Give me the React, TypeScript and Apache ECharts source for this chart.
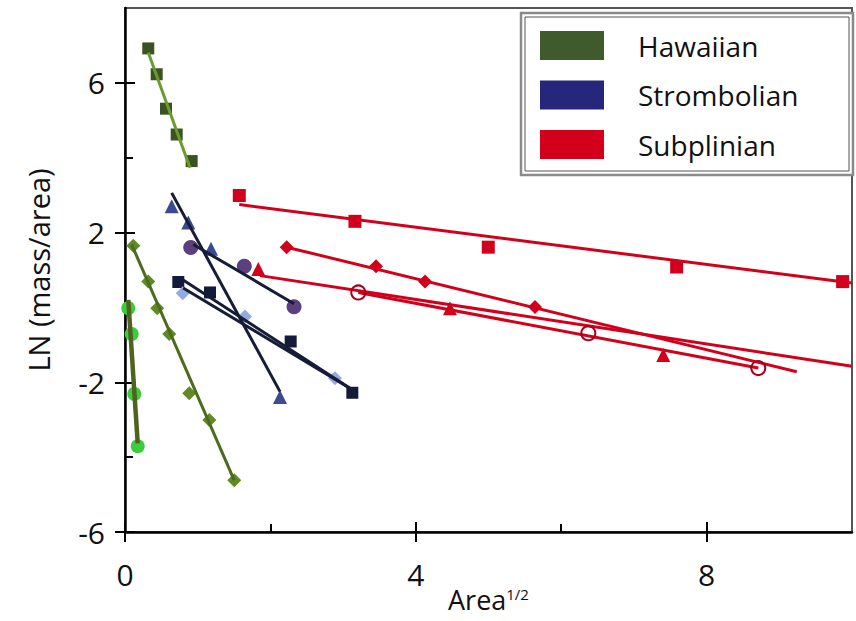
import React, { useEffect, useRef } from "react";
import * as echarts from "echarts";

// ---- data ----
const xTickLabels = [0, 4, 8];
const xMinorTicks = [2, 6];
const yTickLabels = [-6, -2, 2, 6];
const yMinorTicks = [-4, 0, 4];

const legendNames = ["Hawaiian", "Strombolian", "Subplinian"];

// Hawaiian
const hawSquares = [[0.32, 6.92], [0.436, 6.23], [0.564, 5.31], [0.711, 4.62], [0.917, 3.91]];
const hawSquaresFit = [[0.32, 6.81], [0.894, 3.73]];
const hawDiamonds = [[0.114, 1.65], [0.32, 0.69], [0.444, -0.02], [0.609, -0.71], [0.884, -2.29], [1.16, -3.01], [1.503, -4.62]];
const hawDiamondsFit = [[0.092, 1.68], [1.503, -4.62]];
const hawCircles = [[0.045, -0.02], [0.092, -0.71], [0.128, -2.31], [0.175, -3.71]];
const hawCirclesFit = [[0.045, 0.2], [0.175, -3.63]];

// Strombolian
const strTriangles = [[0.642, 2.7], [0.871, 2.27], [1.183, 1.57], [2.132, -2.39]];
const strTrianglesFit = [[0.642, 3.06], [2.132, -2.25]];
const strCircles = [[0.904, 1.6], [1.641, 1.1], [2.325, 0.02]];
const strCirclesFit = [[0.94, 1.68], [2.325, 0.1]];
const strSquares = [[0.733, 0.68], [1.169, 0.4], [2.279, -0.91], [3.127, -2.28]];
const strSquaresFit = [[0.757, 0.785], [3.127, -2.2]];
const strDiamonds = [[0.794, 0.38], [1.651, -0.24], [2.889, -1.89]];
const strDiamondsFit = [[0.8, 0.52], [3.127, -2.2]];

// Subplinian
const subSquares = [[1.572, 2.99], [3.163, 2.3], [4.997, 1.61], [7.588, 1.08], [9.871, 0.69]];
const subSquaresFit = [[1.572, 2.75], [10, 0.65]];
const subDiamonds = [[2.224, 1.61], [3.453, 1.1], [4.127, 0.69], [5.64, 0.01]];
const subDiamondsFit = [[2.224, 1.61], [9.24, -1.72]];
const subTriangles = [[1.834, 1.03], [4.47, -0.02], [7.404, -1.27]];
const subTrianglesFit = [[1.857, 0.85], [10, -1.57]];
const subCircles = [[3.209, 0.4], [6.373, -0.69], [8.711, -1.62]];
const subCirclesFit = [[3.209, 0.4], [8.711, -1.62]];

const FONT = "'Open Sans', 'Noto Sans', sans-serif";

const RED = "#d2001b";
const NAVY_LINE = "#161c36";

function scatter(name: string, data: number[][], symbol: string, size: number, color: string) {
  return {
    type: "scatter",
    name,
    data,
    symbol,
    symbolSize: size,
    itemStyle: { color, opacity: 1 },
    z: 2,
    silent: true,
  };
}

function fit(data: number[][], color: string, width = 2.5) {
  return {
    type: "line",
    data,
    showSymbol: false,
    symbol: "none",
    lineStyle: { color, width, opacity: 1 },
    z: 3,
    silent: true,
  };
}

export default function App() {
  const ref = useRef<HTMLDivElement>(null);

  useEffect(() => {
    if (!ref.current) return;
    const chart = echarts.init(ref.current, undefined, { renderer: "svg" });

    const axisCommonX = {
      type: "value",
      min: 0,
      max: 10,
      position: "bottom",
      splitLine: { show: false },
    };
    const axisCommonY = {
      type: "value",
      min: -6,
      max: 8,
      position: "left",
      splitLine: { show: false },
    };
    const tickStyle = { color: "#000", width: 2 };

    const option: any = {
      animation: false,
      backgroundColor: "#fff",
      grid: {
        left: 125,
        right: 4,
        top: 8,
        bottom: 89,
        show: true,
        borderColor: "#555",
        borderWidth: 2,
        backgroundColor: "transparent",
        outerBoundsMode: "none",
        containLabel: false,
      },
      xAxis: [
        {
          ...axisCommonX,
          axisLine: { show: true, onZero: false, lineStyle: { color: "#000", width: 2.5 } },
          axisTick: { show: true, inside: false, length: 10, customValues: xTickLabels, lineStyle: tickStyle },
          axisLabel: { show: true, customValues: xTickLabels, margin: 27, fontSize: 30, color: "#111", fontFamily: FONT },
          name: "{a|Area}{b|1/2}",
          nameLocation: "middle",
          nameGap: 54,
          nameMoveOverlap: false,
          nameTextStyle: {
            lineHeight: 27,
            rich: {
              a: { fontSize: 27, lineHeight: 27, color: "#111", fontFamily: FONT },
              b: { fontSize: 15, lineHeight: 20, color: "#111", fontFamily: FONT, verticalAlign: "top" },
            },
          },
        },
        {
          ...axisCommonX,
          axisLine: { show: false, onZero: false },
          axisTick: { show: true, inside: true, length: 10, customValues: xTickLabels, lineStyle: tickStyle },
          axisLabel: { show: false },
        },
        {
          ...axisCommonX,
          axisLine: { show: false, onZero: false },
          axisTick: { show: true, inside: true, length: 8, customValues: xMinorTicks, lineStyle: tickStyle },
          axisLabel: { show: false },
        },
      ],
      yAxis: [
        {
          ...axisCommonY,
          axisLine: { show: true, onZero: false, lineStyle: { color: "#000", width: 2.5 } },
          axisTick: { show: true, inside: false, length: 10, customValues: yTickLabels, lineStyle: tickStyle },
          axisLabel: { show: true, customValues: yTickLabels, margin: 20, fontSize: 30, color: "#111", fontFamily: FONT },
          name: "LN (mass/area)",
          nameLocation: "middle",
          nameGap: 72,
          nameMoveOverlap: false,
          nameTextStyle: { fontSize: 29, color: "#111", fontFamily: FONT },
        },
        {
          ...axisCommonY,
          axisLine: { show: false, onZero: false },
          axisTick: { show: true, inside: true, length: 10, customValues: yTickLabels, lineStyle: tickStyle },
          axisLabel: { show: false },
        },
        {
          ...axisCommonY,
          axisLine: { show: false, onZero: false },
          axisTick: { show: true, inside: true, length: 8, customValues: yMinorTicks, lineStyle: tickStyle },
          axisLabel: { show: false },
        },
      ],
      legend: {
        show: true,
        orient: "vertical",
        left: 540,
        top: 31,
        padding: 0,
        itemWidth: 64,
        itemHeight: 29,
        itemGap: 20.5,
        selectedMode: false,
        icon: "rect",
        data: legendNames,
        textStyle: { fontSize: 28, color: "#111", fontFamily: FONT, padding: [0, 0, 0, 29] },
      },
      graphic: [
        { type: "rect", shape: { x: 521, y: 13, width: 332, height: 162 }, style: { fill: "#fff", stroke: "#8a8a8a", lineWidth: 2.5 }, z: 1 },
        { type: "rect", shape: { x: 525, y: 17, width: 324, height: 154 }, style: { fill: "none", stroke: "#555", lineWidth: 1 }, z: 1 },
      ],
      series: [
        // legend dummies
        { type: "scatter", name: "Hawaiian", data: [], itemStyle: { color: "#3f5b2c", opacity: 1 } },
        { type: "scatter", name: "Strombolian", data: [], itemStyle: { color: "#25267c", opacity: 1 } },
        { type: "scatter", name: "Subplinian", data: [], itemStyle: { color: RED, opacity: 1 } },

        // Hawaiian
        scatter("hs", hawSquares, "rect", 12, "#3b5323"),
        fit(hawSquaresFit, "#6b9b2f", 3),
        scatter("hd", hawDiamonds, "diamond", 14, "#5f8a25"),
        fit(hawDiamondsFit, "#4d6b1e", 3),
        scatter("hc", hawCircles, "circle", 14, "#3ccc3c"),
        fit(hawCirclesFit, "#4f6320", 4.5),

        // Strombolian
        scatter("st", strTriangles, "triangle", 14, "#3b4b8f"),
        scatter("sc", strCircles, "circle", 15, "#5c3f7e"),
        scatter("ss", strSquares, "rect", 12, "#141b38"),
        scatter("sd", strDiamonds, "diamond", 14, "#93abe0"),
        fit(strTrianglesFit, NAVY_LINE, 3),
        fit(strCirclesFit, NAVY_LINE, 3),
        fit(strSquaresFit, NAVY_LINE, 3),
        fit(strDiamondsFit, NAVY_LINE, 3),

        // Subplinian
        scatter("rs", subSquares, "rect", 13, RED),
        scatter("rd", subDiamonds, "diamond", 14, RED),
        scatter("rt", subTriangles, "triangle", 14, RED),
        {
          type: "scatter",
          name: "rc",
          data: subCircles,
          symbol: "circle",
          symbolSize: 14,
          itemStyle: { color: "rgba(255,255,255,0)", borderColor: "#a3001b", borderWidth: 2, opacity: 1 },
          z: 4,
          silent: true,
        },
        fit(subSquaresFit, RED, 3),
        fit(subDiamondsFit, RED, 3),
        fit(subTrianglesFit, RED, 3),
        fit(subCirclesFit, RED, 3),
      ],
    };

    chart.setOption(option);
    return () => chart.dispose();
  }, []);

  return <div ref={ref} style={{ position: "absolute", left: 0, top: 0, width: 856, height: 621 }} />;
}
